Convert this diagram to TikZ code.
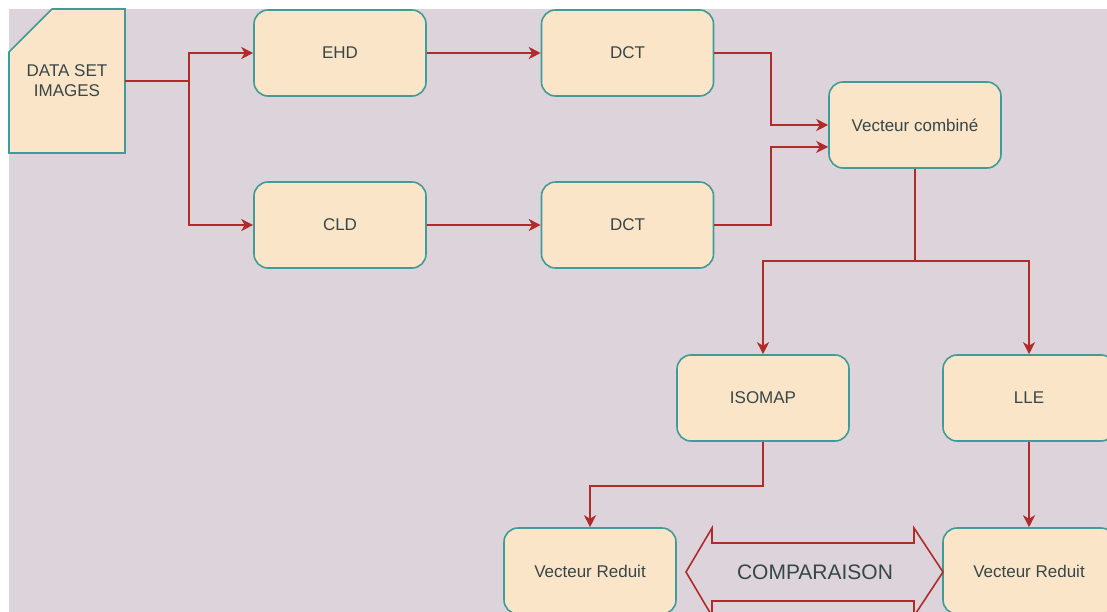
\documentclass[tikz,border=0pt]{standalone}
\usepackage{fontspec}
\setmainfont{Liberation Sans}
\usetikzlibrary{arrows.meta,calc}
\definecolor{bg}{HTML}{DCD3DB}
\definecolor{boxfill}{HTML}{FBE5C8}
\definecolor{boxline}{HTML}{3F9C98}
\definecolor{arr}{HTML}{B12B2B}
\definecolor{txt}{HTML}{384648}
\begin{document}
\begin{tikzpicture}[x=1pt,y=-1pt,
  box/.style={draw=boxline, fill=boxfill, line width=1.6pt, rounded corners=14pt,
    minimum width=172pt, minimum height=86pt, text=txt,
    font=\fontsize{17}{20}\selectfont, inner sep=0pt},
  conn/.style={draw=arr, line width=1.7pt, -{Stealth[length=12pt,width=12pt,inset=3.5pt]}},
  plain/.style={draw=arr, line width=1.7pt},
  bigarrow/.style={draw=arr, line width=1.6pt, line join=miter}]
\useasboundingbox (0,0) rectangle (1107,611);
\clip (0,0) rectangle (1107,611);
\fill[bg] (9,9) rectangle (1120,620);

% data card
\draw[draw=boxline, fill=boxfill, line width=1.6pt] (9,52) -- (52,9) -- (125,9) -- (125,153) -- (9,153) -- cycle;
\node[inner sep=0pt, minimum width=116pt, minimum height=144pt, text=txt,
  font=\fontsize{17}{20}\selectfont, align=center] (data) at (67,81) {DATA SET\\IMAGES};

\node[box] (ehd) at (340,53) {EHD};
\node[box] (cld) at (340,225) {CLD};
\node[box] (dct1) at (627.5,53) {DCT};
\node[box] (dct2) at (627.5,225) {DCT};
\node[box] (vc) at (915,125) {Vecteur combiné};
\node[box] (iso) at (763,398) {ISOMAP};
\node[box] (lle) at (1029,398) {LLE};
\node[box] (vr1) at (590,571) {Vecteur Reduit};
\node[box] (vr2) at (1029,571) {Vecteur Reduit};

\coordinate (split) at (189,81);
\coordinate (fork) at (915,261);

\draw[plain] (data.east) -- (split);
\draw[conn] (split) |- (ehd.west);
\draw[conn] (split) |- (cld.west);
\draw[conn] (ehd.east) -- (dct1.west);
\draw[conn] (cld.east) -- (dct2.west);
\draw[conn] (dct1.east) -- ++(57,0) |- (vc.west);
\draw[conn] (dct2.east) -- ++(57,0) |- ($(vc.west)!0.5!(vc.south west)$);
\draw[plain] (vc.south) -- (fork);
\draw[conn] (fork) -| (iso.north);
\draw[conn] (fork) -| (lle.north);
\draw[conn] (iso.south) -- ++(0,44) -| (vr1.north);
\draw[conn] (lle.south) -- (vr2.north);

% comparison double arrow
\draw[bigarrow] (686,572) -- (712,528) -- (712,543) -- (914,543) -- (914,528) -- (943,572)
  -- (914,616) -- (914,601) -- (712,601) -- (712,616) -- cycle;
\node[text=txt, font=\fontsize{21}{24}\selectfont, inner sep=0pt] (cmp) at (815,572) {COMPARAISON};
\end{tikzpicture}
\end{document}
